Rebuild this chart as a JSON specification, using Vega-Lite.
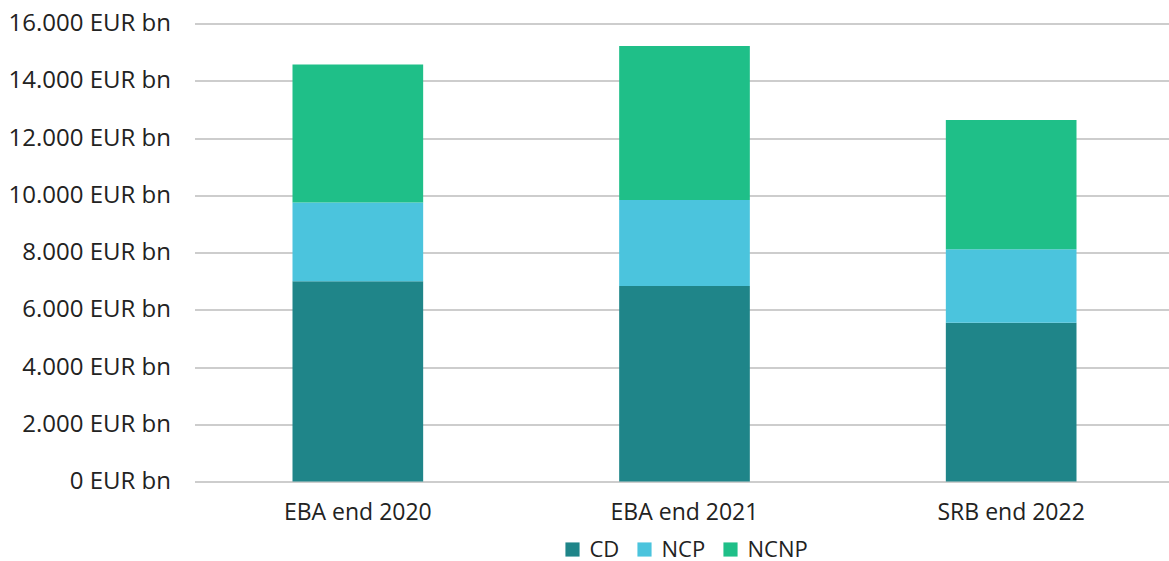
{
  "$schema": "https://vega.github.io/schema/vega-lite/v6.json",
  "autosize": "none",
  "width": 980,
  "height": 458,
  "padding": {"left": 194.5, "top": 23.5, "right": 0, "bottom": 79.5},
  "background": "white",
  "data": {
    "values": [
      {"period": "EBA end 2020", "type": "CD", "k": 1, "value": 7000},
      {"period": "EBA end 2020", "type": "NCP", "k": 2, "value": 2750},
      {"period": "EBA end 2020", "type": "NCNP", "k": 3, "value": 4820},
      {"period": "EBA end 2021", "type": "CD", "k": 1, "value": 6830},
      {"period": "EBA end 2021", "type": "NCP", "k": 2, "value": 3000},
      {"period": "EBA end 2021", "type": "NCNP", "k": 3, "value": 5380},
      {"period": "SRB end 2022", "type": "CD", "k": 1, "value": 5550},
      {"period": "SRB end 2022", "type": "NCP", "k": 2, "value": 2560},
      {"period": "SRB end 2022", "type": "NCNP", "k": 3, "value": 4520}
    ]
  },
  "mark": {"type": "bar"},
  "encoding": {
    "x": {
      "field": "period",
      "type": "nominal",
      "title": null,
      "scale": {"paddingInner": 0.6, "paddingOuter": 0.3},
      "axis": {
        "labelAngle": 0,
        "labelFontSize": 23,
        "labelFont": "Open Sans",
        "labelColor": "#222222",
        "labelPadding": 20,
        "domain": false,
        "ticks": false,
        "grid": false
      }
    },
    "y": {
      "field": "value",
      "type": "quantitative",
      "title": null,
      "stack": "zero",
      "scale": {"domain": [0, 16000], "nice": false},
      "axis": {
        "values": [0, 2000, 4000, 6000, 8000, 10000, 12000, 14000, 16000],
        "labelExpr": "replace(format(datum.value, ',.0f'), ',', '.') + ' EUR bn'",
        "labelFontSize": 24,
        "labelFont": "Open Sans",
        "labelColor": "#222222",
        "labelPadding": 24,
        "domain": false,
        "ticks": false,
        "grid": true,
        "gridColor": "#bdbdbd",
        "gridWidth": 1.5
      }
    },
    "color": {
      "field": "type",
      "type": "nominal",
      "title": null,
      "scale": {
        "domain": ["CD", "NCP", "NCNP"],
        "range": ["#1f8589", "#4bc4dd", "#1fbf88"]
      },
      "legend": {
        "orient": "bottom",
        "direction": "horizontal",
        "symbolType": "square",
        "symbolSize": 200,
        "symbolStrokeWidth": 0,
        "labelFontSize": 22,
        "labelFont": "Open Sans",
        "labelColor": "#222222",
        "columnPadding": 14,
        "labelOffset": 6,
        "offset": 14
      }
    },
    "order": {"field": "k", "type": "quantitative"}
  },
  "config": {
    "view": {"stroke": null},
    "legend": {"layout": {"bottom": {"anchor": "middle"}}}
  }
}
